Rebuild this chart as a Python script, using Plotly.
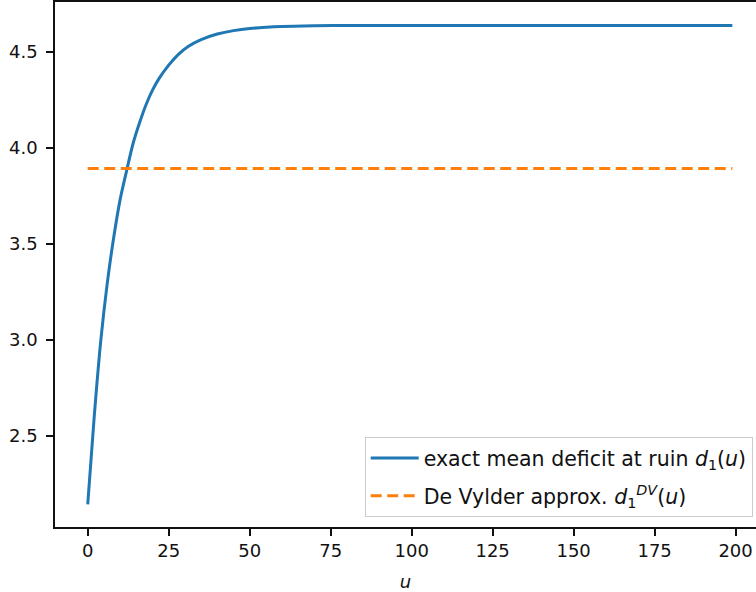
import plotly.graph_objects as go

# values
u_exact = [0, 2, 4, 6, 8, 10, 12, 14, 16, 18, 20, 22, 25, 28, 31, 35, 40, 45, 50,
           60, 70, 80, 100, 125, 150, 175, 199]
d_exact = [2.143, 2.598, 2.990, 3.290, 3.530, 3.730, 3.880, 4.022, 4.130, 4.224,
           4.300, 4.360, 4.430, 4.486, 4.527, 4.563, 4.592, 4.610, 4.621,
           4.631, 4.635, 4.637, 4.637, 4.637, 4.637, 4.637, 4.637]
u_dv = [0, 199]
d_dv = [3.892, 3.892]

x_ticks = [0, 25, 50, 75, 100, 125, 150, 175, 200]
y_ticks = [2.5, 3.0, 3.5, 4.0, 4.5]

FONT = "DejaVu Sans, Verdana, sans-serif"
INK = "#111111"

fig = go.Figure()
fig.add_trace(go.Scatter(
    x=u_exact, y=d_exact, mode="lines",
    line=dict(color="#1f77b4", width=3, shape="spline", smoothing=0.8),
    name="exact mean deficit at ruin <i>d</i><sub>1</sub>(<i>u</i>)",
    legendgroup="a",
))
fig.add_trace(go.Scatter(
    x=u_dv, y=d_dv, mode="lines",
    line=dict(color="#ff7f0e", width=3, dash="11px,5.5px"),
    name="De Vylder approx. <i>d</i><sub>1</sub><sup><i>DV</i></sup>(<i>u</i>)",
    legendgroup="b",
))

fig.update_layout(
    width=756, height=592,
    margin=dict(l=55, r=0, t=2, b=65),
    paper_bgcolor="white", plot_bgcolor="white",
    font=dict(family=FONT, size=18, color=INK),
    showlegend=True,
    legend=dict(
        x=0.9953, y=0.0185, xanchor="right", yanchor="bottom",
        bgcolor="rgba(255,255,255,0.8)", bordercolor="#cccccc", borderwidth=1,
        font=dict(family=FONT, size=20.5, color=INK),
        itemwidth=48, tracegroupgap=8,
    ),
    xaxis=dict(
        range=[-10.1, 206.3], tickvals=x_ticks, ticks="outside", ticklen=7,
        tickwidth=1.6, tickcolor=INK, showline=True, linecolor=INK,
        linewidth=1.6, mirror=True, showgrid=False, zeroline=False,
        automargin=False, ticklabelstandoff=0,
        title=dict(text="<i>u</i>", standoff=16, font=dict(size=18)),
    ),
    yaxis=dict(
        range=[2.025, 4.759], tickvals=y_ticks, tickformat=".1f", ticks="outside",
        ticklen=7, tickwidth=1.6, tickcolor=INK, showline=True,
        linecolor=INK, linewidth=1.6, mirror=False, showgrid=False,
        zeroline=False, automargin=False, ticklabelstandoff=5,
    ),
)

fig.write_html(
    "out.html",
    config={"displayModeBar": False},
    post_script="document.body.style.margin='0';",
)
